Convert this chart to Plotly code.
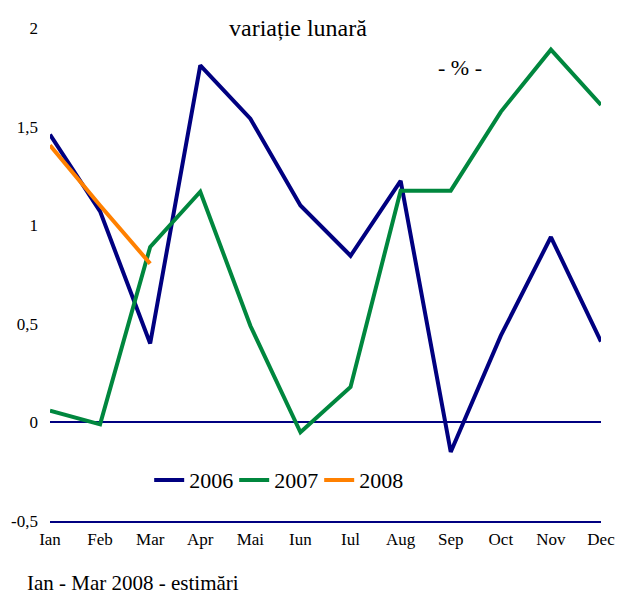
import plotly.graph_objects as go

luni = ["Ian", "Feb", "Mar", "Apr", "Mai", "Iun",
        "Iul", "Aug", "Sep", "Oct", "Nov", "Dec"]
val_2006 = [1.46, 1.07, 0.40, 1.81, 1.54, 1.10,
            0.845, 1.225, -0.15, 0.44, 0.94, 0.41]
val_2007 = [0.06, -0.01, 0.89, 1.17, 0.49, -0.05,
            0.18, 1.175, 1.175, 1.575, 1.89, 1.61]
val_2008 = [1.405, 1.10, 0.805]
y_ticks = [-0.5, 0, 0.5, 1, 1.5, 2]
y_tick_text = ["-0,5", "0", "0,5", "1", "1,5", "2"]

FONT = "Liberation Serif"

fig = go.Figure()
fig.add_trace(go.Scatter(x=luni, y=val_2006, name="2006", mode="lines",
                         line=dict(color="#000080", width=4)))
fig.add_trace(go.Scatter(x=luni, y=val_2007, name="2007", mode="lines",
                         line=dict(color="#00873E", width=4)))
fig.add_trace(go.Scatter(x=luni[:3], y=val_2008, name="2008", mode="lines",
                         line=dict(color="#FF8000", width=4)))

fig.update_layout(
    width=617, height=594,
    margin=dict(l=50, r=16, t=28, b=73),
    paper_bgcolor="white", plot_bgcolor="white",
    font=dict(family=FONT, size=17, color="black"),
    showlegend=True,
    legend=dict(orientation="h", x=0.18, y=0.083, xanchor="left",
                yanchor="middle", font=dict(size=22, family=FONT),
                bgcolor="rgba(0,0,0,0)", itemwidth=30, tracegroupgap=0,
                entrywidth=40, entrywidthmode="pixels"),
    xaxis=dict(showgrid=False, showline=True, linecolor="#000080",
               linewidth=2, ticks="", range=[0, 11], automargin=False,
               tickfont=dict(size=17, family=FONT), ticklabelstandoff=2),
    yaxis=dict(range=[-0.5, 2], tickvals=y_ticks, ticktext=y_tick_text,
               showgrid=False,
               zeroline=True, zerolinecolor="#000080", zerolinewidth=2,
               showline=False, ticks="", automargin=False,
               tickfont=dict(size=17, family=FONT), ticklabelstandoff=11),
)

fig.add_annotation(text="variație lunară", xref="paper", yref="paper",
                   x=0.45, y=1.0, xanchor="center", yanchor="middle",
                   showarrow=False, font=dict(size=24, family=FONT))
fig.add_annotation(text="- % -", xref="paper", yref="paper",
                   x=0.745, y=0.92, xanchor="center", yanchor="middle",
                   showarrow=False, font=dict(size=22, family=FONT))
fig.add_annotation(text="Ian - Mar 2008 - estimări", xref="paper",
                   yref="paper", x=-0.045, y=-0.125, xanchor="left",
                   yanchor="middle", showarrow=False,
                   font=dict(size=21, family=FONT))

# page has an 8px body margin by default, drop it so the chart fits the window
fig.write_html("out.html", config={"displayModeBar": False},
               post_script="document.body.style.margin='0';")
